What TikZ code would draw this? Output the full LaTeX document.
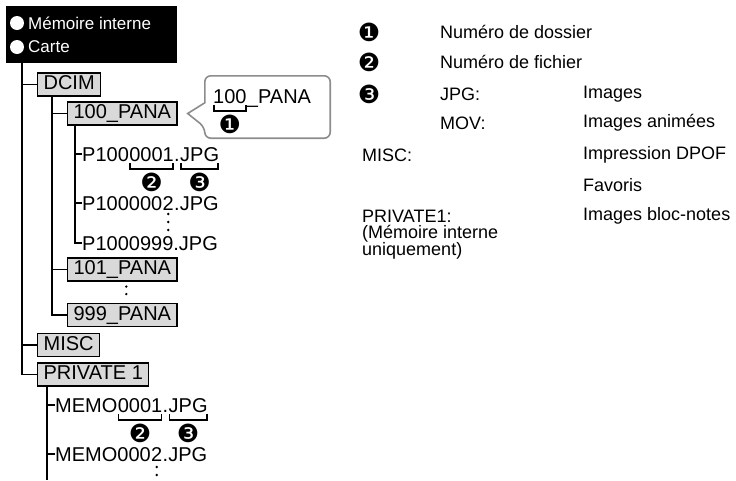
\documentclass[tikz,border=0pt]{standalone}
\usepackage{fontspec}
\setmainfont{Liberation Sans}
\newfontfamily\dingfont{DejaVu Sans}
\usetikzlibrary{positioning,calc}

\tikzset{
  tree/.style={line width=1.3pt},
  folder/.style={draw, line width=1.2pt, fill=black!15, anchor=west, inner xsep=6pt, inner ysep=1.5pt,
    text height=15pt, text depth=5pt, font=\fontsize{20}{20}\selectfont},
  part/.style={inner sep=0pt, anchor=base west, font=\fontsize{20}{20}\selectfont},
  brack/.style={line width=1.6pt},
  num/.style={inner sep=0pt, font=\dingfont\fontsize{25}{25}\selectfont},
  legend/.style={inner sep=0pt, anchor=west, font=\fontsize{18}{18}\selectfont},
  dots/.style={line width=2.6pt, line cap=round, dash pattern=on 0pt off 8pt},
  callout/.style={draw=black!45, line width=1.6pt, rounded corners=6pt},
}

% bracket under a part of a name, with its number
\newcommand{\numbrack}[2]{%
  \draw[brack] ([shift={(1,-2)}]#1.base west) -- ([shift={(1,-8)}]#1.base west)
    -- ([shift={(-1,-8)}]#1.base east) -- ([shift={(-1,-2)}]#1.base east);
  \node[num] at ([yshift=-21]#1.base) {#2};
}

\begin{document}
\begin{tikzpicture}[x=1pt, y=1pt]
  \useasboundingbox (0,0) rectangle (736,-480);

  % media box
  \node[fill=black, minimum width=171, minimum height=57, inner sep=0pt, anchor=north west] (media) at (6,-6) {};
  \fill[white] (17,-23) circle (7);
  \fill[white] (17,-47) circle (7);
  \node[legend, text=white, font=\fontsize{17}{17}\selectfont] (mem) at (28,-23) {Mémoire interne};
  \node[legend, text=white, font=\fontsize{17}{17}\selectfont] (card) at (28,-47) {Carte};

  % folders
  \node[folder] (dcim) at (37,-84.5) {DCIM};
  \node[folder] (p100) at (67,-113.5) {100\_PANA};
  \node[folder] (p101) at (67,-269.5) {101\_PANA};
  \node[folder] (p999) at (67,-315) {999\_PANA};
  \node[folder] (misc) at (37,-345) {MISC};
  \node[folder] (priv) at (37,-374.5) {PRIVATE 1};

  % files in 100_PANA
  \node[part] (f1a) at (82,-161) {P100};
  \node[part] (f1b) at (f1a.base east) {0001};
  \node[part] (f1c) at (f1b.base east) {.};
  \node[part] (f1d) at (f1c.base east) {JPG};
  \node[part] (f2a) at (82,-210) {P100000};
  \node[part] (f2b) at (f2a.base east) {2};
  \node[part] (f2c) at (f2b.base east) {.JPG};
  \node[part] (f3) at (82,-250) {P1000999.JPG};

  % files in PRIVATE 1
  \node[part] (m1a) at (55,-412) {MEMO};
  \node[part] (m1b) at (m1a.base east) {0001};
  \node[part] (m1c) at (m1b.base east) {.};
  \node[part] (m1d) at (m1c.base east) {JPG};
  \node[part] (m2a) at (55,-461) {MEMO000};
  \node[part] (m2b) at (m2a.base east) {2};
  \node[part] (m2c) at (m2b.base east) {.JPG};

  % tree lines
  \coordinate (trunk) at ([xshift=16]media.south west);
  \draw[tree] (trunk) |- (dcim.west);
  \draw[tree] (trunk) |- (misc.west);
  \draw[tree] (trunk) |- (priv.west);
  \coordinate (dv) at ([xshift=15]dcim.south west);
  \draw[tree] (dv) |- (p100.west);
  \draw[tree] (dv) |- (p101.west);
  \draw[tree] (dv) |- (p999.west);
  \coordinate (pv) at ([xshift=8]p100.south west);
  \draw[tree] (pv) |- (f1a.west);
  \draw[tree] (pv) |- (f2a.west);
  \draw[tree] (pv) |- (f3.west);
  \coordinate (mv) at ([xshift=10]priv.south west);
  \coordinate (bottom) at (0,-480);
  \draw[tree] (mv) -- (mv |- bottom);
  \draw[tree] (mv) |- (m1a.west);
  \draw[tree] (mv) |- (m2a.west);

  % more of the same
  \draw[dots] ([yshift=-4]f2b.base) -- ([yshift=-20]f2b.base);
  \draw[dots, dash pattern=on 0pt off 7.5pt] ([shift={(4,-5)}]p101.south) -- ([shift={(4,-20)}]p101.south);
  \draw[dots] ([yshift=-6]m2b.base) -- ([yshift=-22]m2b.base);

  % brackets
  \numbrack{f1b}{❷}
  \numbrack{f1d}{❸}
  \numbrack{m1b}{❷}
  \numbrack{m1d}{❸}

  % callout
  \node[minimum width=125, minimum height=62, inner sep=0pt] (co) at (267.5,-107) {};
  \coordinate (tip) at ([xshift=10]p100.east);
  \draw[callout] ([yshift=-27]co.north west) -- (co.north west) -- (co.north east) -- (co.south east)
    -- (co.south west) -- ([yshift=11]co.south west) [sharp corners] -- (tip) -- cycle;
  \node[part] (c100) at (213,-103) {100};
  \node[part] (cpana) at (c100.base east) {\_PANA};
  \numbrack{c100}{❶}

  % legend
  \node[num] (n1) at (369,-32) {❶};
  \node[num] (n2) at (369,-62) {❷};
  \node[num] (n3) at (369,-94) {❸};
  \node[legend] (l1) at (440,-32) {Numéro de dossier};
  \node[legend] (l2) at (440,-62) {Numéro de fichier};
  \node[legend] (ljpg) at (440,-94) {JPG:};
  \node[legend] (lmov) at (440,-123) {MOV:};
  \node[legend] (limg) at (583,-94) {Images};
  \node[legend] (lanim) at (583,-123) {Images animées};
  \node[legend] (lmisc) at (362,-155) {MISC:};
  \node[legend] (ldpof) at (583,-155) {Impression DPOF};
  \node[legend] (lfav) at (583,-185) {Favoris};
  \node[legend] (lpriv) at (362,-216) {PRIVATE1:};
  \node[legend] (lpriv2) at (362,-234) {(Mémoire interne};
  \node[legend] (lpriv3) at (362,-251) {uniquement)};
  \node[legend] (lmemo) at (583,-216) {Images bloc-notes};
\end{tikzpicture}
\end{document}
